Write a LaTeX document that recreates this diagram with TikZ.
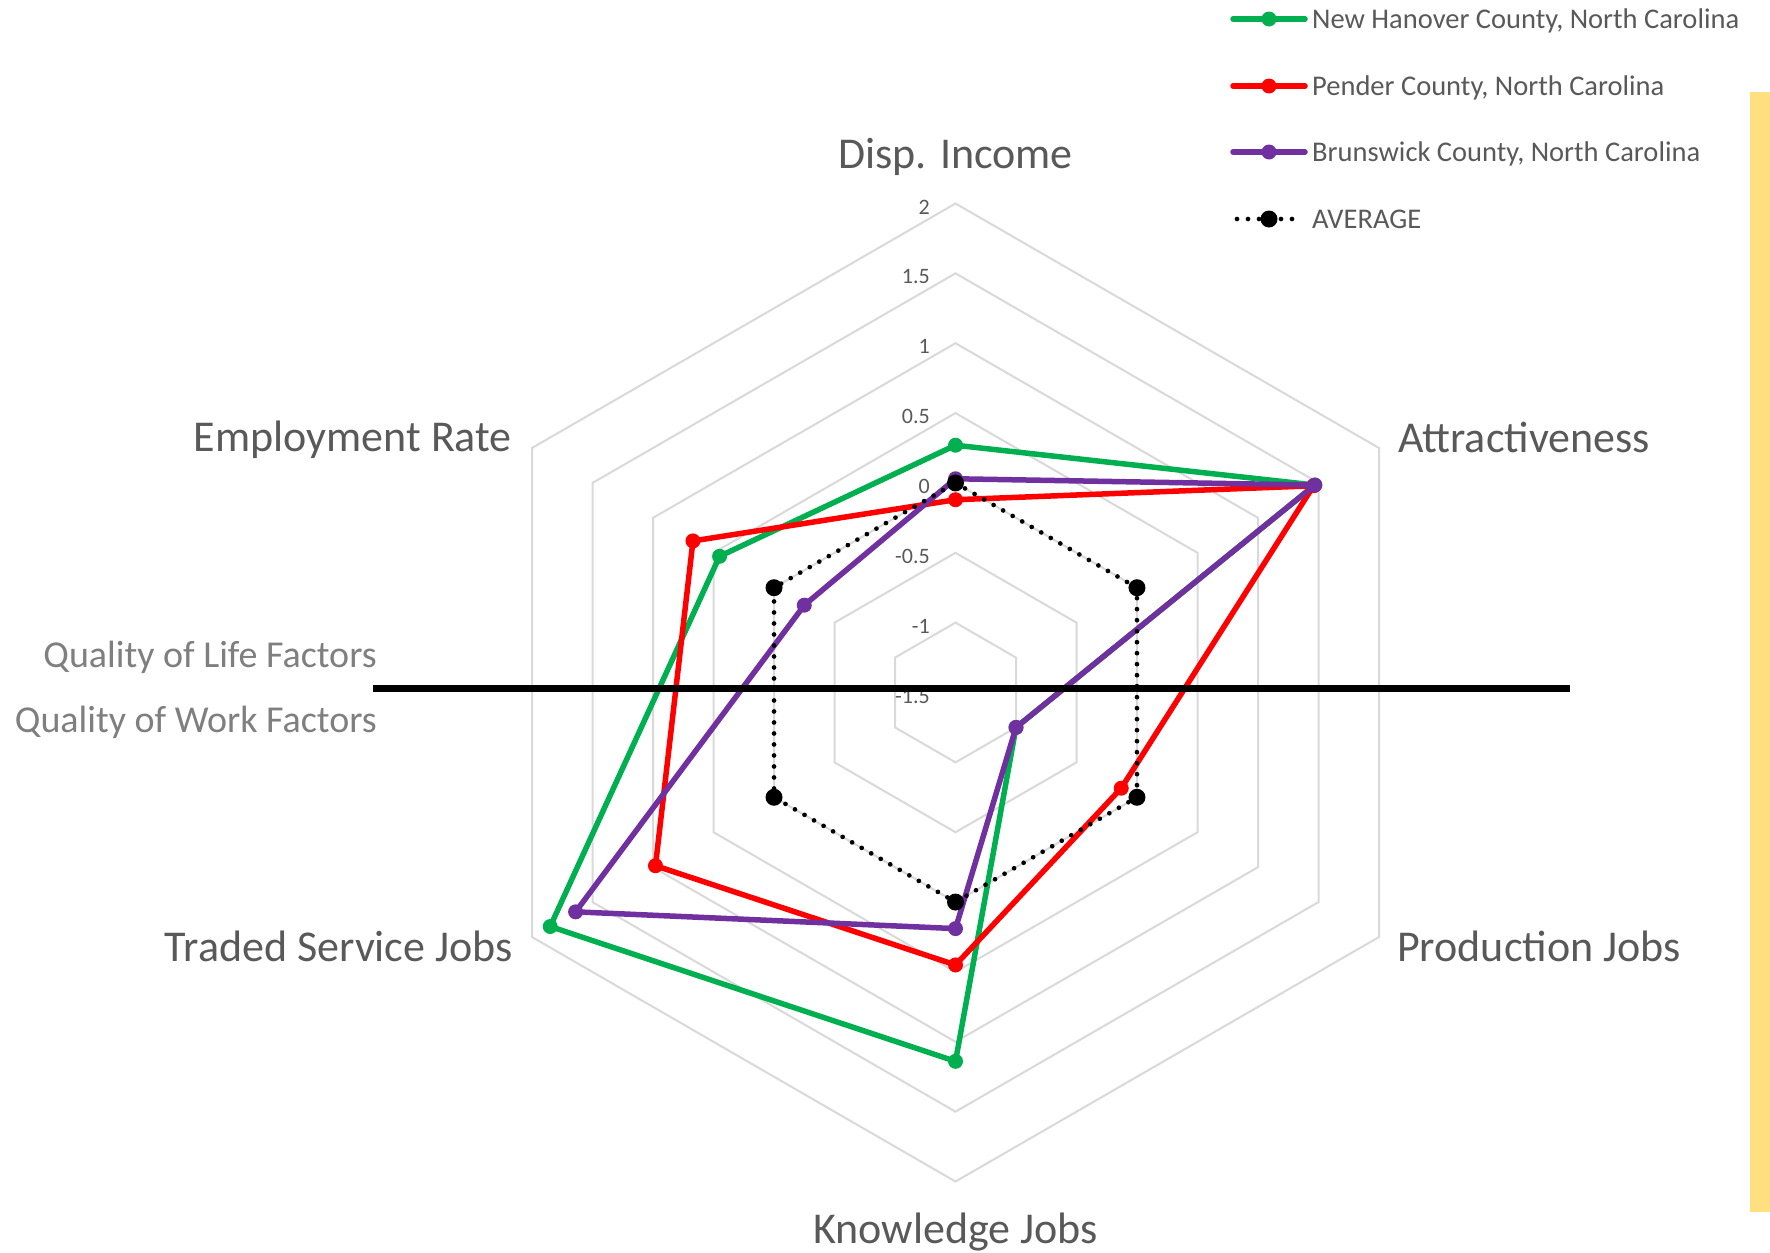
\documentclass[tikz,border=0pt]{standalone}
\usepackage{fontspec}
\setmainfont{Carlito}
\usetikzlibrary{calc}
\definecolor{nhgreen}{HTML}{00B050}
\definecolor{pdred}{HTML}{FF0000}
\definecolor{bwpurple}{HTML}{7030A0}
\definecolor{gridgray}{HTML}{D9D9D9}
\definecolor{labelgray}{HTML}{595959}
\definecolor{qualgray}{HTML}{7F7F7F}
\definecolor{baryellow}{HTML}{FFDF80}
\begin{document}
\begin{tikzpicture}[x=1pt,y=1pt,
  axislabel/.style={font=\fontsize{44}{51}\selectfont, text=labelgray, inner sep=0pt},
  quallabel/.style={font=\fontsize{38}{45}\selectfont, text=qualgray, inner sep=0pt},
  ticklabel/.style={font=\fontsize{22}{26}\selectfont, text=labelgray, inner sep=0pt, anchor=east},
  legendtext/.style={font=\fontsize{28.5}{33}\selectfont, text=labelgray, inner sep=0pt, anchor=base west},
  gridring/.style={draw=gridgray, line width=2pt, line join=miter},
  series/.style={line width=5.5pt, line join=round, line cap=round},
  avgline/.style={line width=4.7pt, line cap=round, dash pattern=on 0pt off 11pt},
  dotmark/.style={radius=7.5},
  bigmark/.style={radius=8.5}]
\useasboundingbox (0,0) rectangle (1770,-1253);
\fill[white] (0,0) rectangle (1770,-1253);

% yellow bar
\fill[baryellow] (1750,-92) rectangle (1770,-1212);

\begin{scope}[shift={(955.5,-692.5)}]
  % grid hexagons
  \foreach \k in {1,...,7}{
    \draw[gridring] (90:{\k*69.86}) -- (30:{\k*69.86}) -- (-30:{\k*69.86}) -- (-90:{\k*69.86}) -- (-150:{\k*69.86}) -- (150:{\k*69.86}) -- cycle;
  }
  % tick labels
  \foreach \k/\t in {0/-1.5,1/-1,2/-0.5,3/0,4/0.5,5/1,6/1.5,7/2}{
    \node[ticklabel] (tick\k) at (-25.5,{\k*69.86-3.5}) {\t};
  }
  % data coordinates
  \foreach \n/\v in {1/0.27,2/1.47,3/-1.0,4/1.14,5/1.85,6/0.45}{
    \coordinate (g\n) at ({150-60*\n}:{(\v+1.5)*139.7});
  }
  \foreach \n/\v in {1/-0.12,2/1.46,3/-0.13,4/0.45,5/0.98,6/0.67}{
    \coordinate (r\n) at ({150-60*\n}:{(\v+1.5)*139.7});
  }
  \foreach \n/\v in {1/0.03,2/1.47,3/-1.0,4/0.19,5/1.64,6/-0.25}{
    \coordinate (p\n) at ({150-60*\n}:{(\v+1.5)*139.7});
  }
  \foreach \n in {1,...,6}{
    \coordinate (a\n) at ({150-60*\n}:{1.5*139.7});
  }
  % New Hanover
  \draw[series, nhgreen] (g1) -- (g2) -- (g3) -- (g4) -- (g5) -- (g6) -- cycle;
  \foreach \n in {1,...,6}{\fill[nhgreen] (g\n) circle[dotmark];}
  % Pender
  \draw[series, pdred] (r1) -- (r2) -- (r3) -- (r4) -- (r5) -- (r6) -- cycle;
  \foreach \n in {1,...,6}{\fill[pdred] (r\n) circle[dotmark];}
  % Brunswick
  \draw[series, bwpurple] (p1) -- (p2) -- (p3) -- (p4) -- (p5) -- (p6) -- cycle;
  \foreach \n in {1,...,6}{\fill[bwpurple] (p\n) circle[dotmark];}
  % Average
  \draw[avgline, black] (a1) -- (a2) -- (a3) -- (a4) -- (a5) -- (a6) -- cycle;
  \foreach \n in {1,...,6}{\fill[black] (a\n) circle[bigmark];}
\end{scope}

% axis labels
\node[axislabel, anchor=base] (lblDisp) at (955.5,-168) {Disp. Income};
\node[axislabel, anchor=base west] (lblAttr) at (1398,-452) {Attractiveness};
\node[axislabel, anchor=base west] (lblProd) at (1397,-961) {Production Jobs};
\node[axislabel, anchor=base] (lblKnow) at (955.5,-1243) {Knowledge Jobs};
\node[axislabel, anchor=base east] (lblTrad) at (513,-961) {Traded Service Jobs};
\node[axislabel, anchor=base east] (lblEmp) at (512,-451) {Employment Rate};

% divider
\coordinate (divL) at (373,-688.3);
\coordinate (divR) at (1570,-688.3);
\draw[black, line width=7pt] (divL) -- (divR);
\node[quallabel, anchor=base east] (qlife) at (377,-667) {Quality of Life Factors};
\node[quallabel, anchor=base east] (qwork) at (377,-732) {Quality of Work Factors};

% legend
\foreach \y/\c/\t in {19/nhgreen/{New Hanover County, North Carolina},86/pdred/{Pender County, North Carolina},152/bwpurple/{Brunswick County, North Carolina}}{
  \coordinate (legL\y) at (1233,-\y);
  \coordinate (legR\y) at (1305,-\y);
  \draw[series, \c] (legL\y) -- (legR\y);
  \fill[\c] (1269,-\y) circle[dotmark];
  \node[legendtext] (legT\y) at (1312,{-\y-9.3}) {\t};
}
\coordinate (legLa) at (1237,-219);
\coordinate (legRa) at (1302,-219);
\draw[avgline, black] (legLa) -- (legRa);
\fill[black] (1269,-219) circle[bigmark];
\node[legendtext] (legTa) at (1312,{-219-9.3}) {AVERAGE};
\end{tikzpicture}
\end{document}
